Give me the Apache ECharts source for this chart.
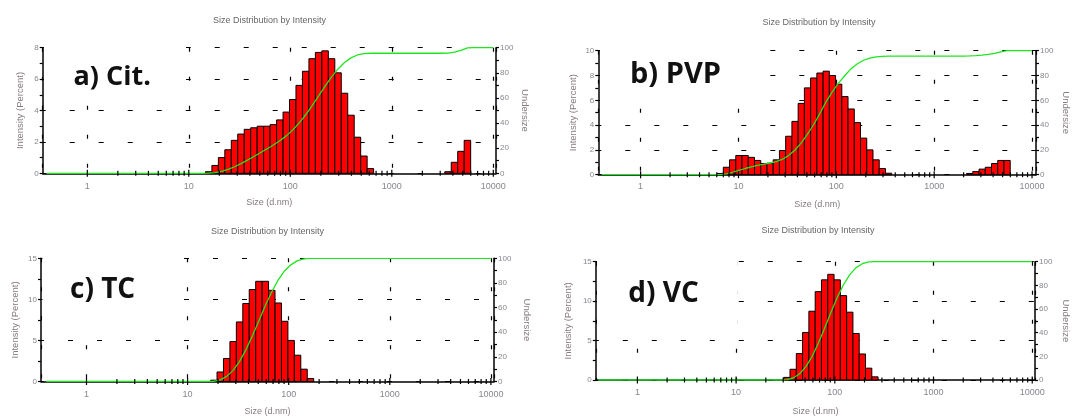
<!DOCTYPE html>
<html><head><meta charset="utf-8">
<script src="https://cdn.jsdelivr.net/npm/echarts@6/dist/echarts.min.js"></script>
<style>html,body{margin:0;padding:0;background:#fff;}#c{width:1072px;height:417px;}</style>
</head><body><div id="c"></div>
<script>
// ---- data (Zetasizer size classes, d.nm) ----
const sizes = [0.4,0.4632,0.5365,0.6213,0.7195,0.8332,0.9649,1.117,1.294,1.499,
  1.736,2.010,2.328,2.696,3.122,3.615,4.187,4.849,5.615,6.503,
  7.531,8.721,10.10,11.70,13.54,15.69,18.17,21.04,24.36,28.21,
  32.67,37.84,43.82,50.75,58.77,68.06,78.82,91.28,105.7,122.4,
  141.8,164.2,190.1,220.2,255.0,295.3,342.0,396.1,458.7,531.2,
  615.1,712.4,825.0,955.4,1106,1281,1484,1718,1990,2305,
  2669,3091,3580,4145,4801,5560,6439,7456,8635,10000];

const intensityCit = [0,0,0,0,0,0,0,0,0,0, 0,0,0,0,0,0,0,0,0,0,
  0,0,0,0,0,0.1,0.5,1.0,1.5,2.1, 2.5,2.8,2.9,3.0,3.0,3.1,3.4,3.9,4.7,5.6,
  6.5,7.3,7.7,7.8,7.3,6.4,5.1,3.7,2.3,1.1, 0.3,0,0,0,0,0,0,0,0,0,
  0,0,0.1,0.7,1.4,2.1,0,0,0,0];
const undersizeCit = [0,0,0,0,0,0,0,0,0,0, 0,0,0,0,0,0,0,0,0,0,
  0,0,0,0,0,0.1,0.6,1.6,3.1,5.2, 7.7,10.5,13.4,16.4,19.4,22.5,25.9,29.8,34.5,40.1,
  46.6,53.9,61.6,69.4,76.7,83.1,88.2,91.9,94.2,95.3, 95.6,95.6,95.6,95.6,95.6,95.6,95.6,95.6,95.6,95.6,
  95.6,95.6,95.7,96.4,97.8,99.9,100,100,100,100];

const intensityPVP = [0,0,0,0,0,0,0,0,0,0, 0,0,0,0,0,0,0,0,0,0.1,
  0.6,1.2,1.55,1.55,1.4,1.15,0.9,0.93,1.2,1.95, 3.1,4.3,5.75,7.0,7.8,8.2,8.35,8.0,7.3,6.3,
  5.3,4.2,2.95,2.0,1.2,0.5,0.12,0,0,0, 0,0,0,0,0,0,0,0,0,0.1,
  0.25,0.45,0.6,0.9,1.15,1.15,0,0,0,0];
const undersizePVP = [0,0,0,0,0,0,0,0,0,0, 0,0,0,0,0,0,0,0,0,0.1,
  0.7,1.9,3.45,5.0,6.4,7.55,8.45,9.4,10.6,12.5, 15.6,19.9,25.7,32.7,40.5,49.5,59.0,67.0,74.0,80.0,
  85.5,89.5,92.3,94.0,95.0,95.5,95.7,95.7,95.7,95.7, 95.7,95.7,95.7,95.7,95.7,95.7,95.7,95.7,95.7,95.8,
  96.0,96.4,97.0,97.9,99.0,100,100,100,100,100];

const intensityTC = [0,0,0,0,0,0,0,0,0,0, 0,0,0,0,0,0,0,0,0,0,
  0,0,0,0,0,0,0.16,1.16,2.8,4.86, 7.25,9.5,11.2,12.2,12.2,11.1,9.56,7.33,5.0,3.2,
  1.5,0.36,0,0,0,0,0,0,0,0, 0,0,0,0,0,0,0,0,0,0,
  0,0,0,0,0,0,0,0,0,0];
const undersizeTC = [0,0,0,0,0,0,0,0,0,0, 0,0,0,0,0,0,0,0,0,0,
  0,0,0,0,0,0,0.16,1.33,4.15,9.04, 16.3,25.9,37.2,49.4,61.7,72.9,82.5,89.9,94.9,98.1,
  99.6,100,100,100,100,100,100,100,100,100, 100,100,100,100,100,100,100,100,100,100,
  100,100,100,100,100,100,100,100,100,100];

const intensityVC = [0,0,0,0,0,0,0,0,0,0, 0,0,0,0,0,0,0,0,0,0,
  0,0,0,0,0,0,0,0,0,0, 0.33,1.36,3.35,6.03,8.72,11.2,12.7,13.4,12.7,10.7,
  8.6,5.9,3.3,1.5,0.4,0,0,0,0,0, 0,0,0,0,0,0,0,0,0,0,
  0,0,0,0,0,0,0,0,0,0];
const undersizeVC = [0,0,0,0,0,0,0,0,0,0, 0,0,0,0,0,0,0,0,0,0,
  0,0,0,0,0,0,0,0,0,0, 0.33,1.69,5.04,11.1,19.8,31.0,43.7,57.1,69.8,80.5,
  89.1,95.0,98.3,99.8,100,100,100,100,100,100, 100,100,100,100,100,100,100,100,100,100,
  100,100,100,100,100,100,100,100,100,100];

const xTickValues = [1,2,3,4,5,6,7,8,9,10,20,30,40,50,60,70,80,90,100,
  200,300,400,500,600,700,800,900,1000,2000,3000,4000,5000,6000,7000,8000,9000,10000];
const panelLabels = ['a) Cit.', 'b) PVP', 'c) TC', 'd) VC'];
const yLeftMax = [8, 10, 15, 15];
const yLeftInterval = [2, 2, 5, 5];
const chartTitle = 'Size Distribution by Intensity';
const xAxisName = 'Size (d.nm)';
const yLeftName = 'Intensity (Percent)';
const yRightName = 'Undersize';

const intensities = [intensityCit, intensityPVP, intensityTC, intensityVC];
const undersizes = [undersizeCit, undersizePVP, undersizeTC, undersizeVC];

// ---- layout (pixels) ----
const layout = [
  {grid:{left:42.7, top:47.7, width:453.3, height:125.6}, xMin:0.3635, xMax:10632,
   title:[269.4, 20.7], label:[73.5, 77, 27], mask:[44, 38, 142, 66], leftGap:17, rightGap:24, xNameGap:25, xLabelMargin:9},
  {grid:{left:598.3, top:50.7, width:441.7, height:124}, xMin:0.3694, xMax:10978,
   title:[819, 22.3], label:[630, 74.5, 29], mask:[600, 40, 168, 67], leftGap:20, rightGap:25, xNameGap:25, xLabelMargin:7},
  {grid:{left:41, top:258.3, width:453, height:125.7}, xMin:0.3548, xMax:10733,
   title:[267.5, 231.7], label:[70, 290, 28], mask:[42.5, 248, 141.5, 76], leftGap:21, rightGap:28, xNameGap:25.5, xLabelMargin:9},
  {grid:{left:595.8, top:261.7, width:444.5, height:121}, xMin:0.379, xMax:10666,
   title:[818, 230.7], label:[628.3, 294, 28], mask:[597, 250, 140, 76], leftGap:22, rightGap:26, xNameGap:27, xLabelMargin:8}
];

const FONT = 'Liberation Sans';
const LABEL_COLOR = '#88858f';
const NAME_COLOR = '#857a80';
const HALF = Math.sqrt(sizes[1] / sizes[0]);

const grids = [], xAxes = [], yAxes = [], series = [], graphics = [];

function isDecade(v) { const e = Math.log10(v); return Math.abs(e - Math.round(e)) < 1e-6; }

layout.forEach((L, i) => {
  grids.push(Object.assign({containLabel:false}, L.grid));
  xAxes.push({
    type:'log', logBase:10, gridIndex:i, min:L.xMin, max:L.xMax,
    name:xAxisName, nameLocation:'middle', nameGap:L.xNameGap,
    nameTextStyle:{fontFamily:FONT, fontSize:9, color:NAME_COLOR},
    axisLine:{show:true, lineStyle:{color:'#000', width:1.5}},
    axisTick:{show:false}, minorTick:{show:false},
    axisLabel:{fontFamily:FONT, fontSize:9, color:LABEL_COLOR, margin:L.xLabelMargin,
      showMinLabel:false, showMaxLabel:false,
      formatter: v => isDecade(v) ? String(Math.round(v)) : ''},
    splitLine:{show:true, lineStyle:{color:'#000', width:1.2, type:[4, 25], dashOffset:0}}
  });
  yAxes.push({
    type:'value', gridIndex:i, position:'left', min:0, max:yLeftMax[i], interval:yLeftInterval[i],
    name:yLeftName, nameLocation:'middle', nameGap:L.leftGap, nameRotate:90,
    nameTextStyle:{fontFamily:FONT, fontSize:9.5, color:NAME_COLOR},
    axisLine:{show:true, lineStyle:{color:'#000', width:1.5}},
    axisTick:{show:true, length:3, lineStyle:{color:'#000', width:1.2}},
    minorTick:{show:true, splitNumber:2, length:3, lineStyle:{color:'#000', width:1.2}},
    axisLabel:{fontFamily:FONT, fontSize:8, color:LABEL_COLOR, margin:4},
    splitLine:{show:true, lineStyle:{color:'#000', width:1.2, type:[5, 24], dashOffset:2}}
  });
  yAxes.push({
    type:'value', gridIndex:i, position:'right', min:0, max:100, interval:20,
    name:yRightName, nameLocation:'middle', nameGap:L.rightGap, nameRotate:-90,
    nameTextStyle:{fontFamily:FONT, fontSize:9.5, color:NAME_COLOR},
    axisLine:{show:true, lineStyle:{color:'#000', width:1.5}},
    axisTick:{show:true, length:3, lineStyle:{color:'#000', width:1.2}},
    minorTick:{show:true, splitNumber:2, length:3, lineStyle:{color:'#000', width:1.2}},
    axisLabel:{fontFamily:FONT, fontSize:8, color:LABEL_COLOR, margin:4},
    splitLine:{show:false}
  });
  const barData = sizes.map((s, k) => [s, intensities[i][k]]);
  series.push({
    type:'custom', xAxisIndex:i, yAxisIndex:2*i, data:barData, z:2,
    encode:{x:0, y:1},
    renderItem:(params, api) => {
      const s = api.value(0), v = api.value(1);
      if (!v) return null;
      const p0 = api.coord([s / HALF, 0]);
      const p1 = api.coord([s * HALF, v]);
      return {type:'rect', shape:{x:p0[0], y:p1[1], width:p1[0]-p0[0], height:p0[1]-p1[1]},
        style:{fill:'#ff0000', stroke:'#000', lineWidth:1}};
    }
  });
  series.push({
    type:'line', xAxisIndex:i, yAxisIndex:2*i+1, z:4, showSymbol:false, symbol:'none',
    data:sizes.map((s, k) => [s, undersizes[i][k]]),
    lineStyle:{color:'#1ee61e', width:1.3}
  });
  series.push({
    type:'custom', xAxisIndex:i, yAxisIndex:2*i, z:5, clip:false,
    data:xTickValues.map(v => [v]), encode:{x:0},
    renderItem:(params, api) => {
      const v = api.value(0);
      const p = api.coord([v, 0]);
      const h = isDecade(v) ? 3.5 : 2.5;
      return {type:'line', shape:{x1:p[0], y1:p[1]-h, x2:p[0], y2:p[1]+h},
        style:{stroke:'#000', lineWidth:1.2}};
    }
  });
  graphics.push({type:'text', z:10, x:L.title[0], y:L.title[1],
    style:{text:chartTitle, font:'9px "' + FONT + '"', fill:'#666', align:'center', verticalAlign:'middle'}});
  graphics.push({type:'rect', z:20, shape:{x:L.mask[0], y:L.mask[1], width:L.mask[2], height:L.mask[3]},
    style:{fill:'#fff'}});
  graphics.push({type:'text', z:21, x:L.label[0], y:L.label[1],
    style:{text:panelLabels[i], font:'bold ' + L.label[2] + 'px "Open Sans"', fill:'#111', align:'left', verticalAlign:'middle'}});
});

const chart = echarts.init(document.getElementById('c'), null, {renderer:'canvas'});
chart.setOption({
  animation:false,
  backgroundColor:'#fff',
  grid:grids, xAxis:xAxes, yAxis:yAxes, series:series,
  graphic:{elements:graphics}
});
</script></body></html>
